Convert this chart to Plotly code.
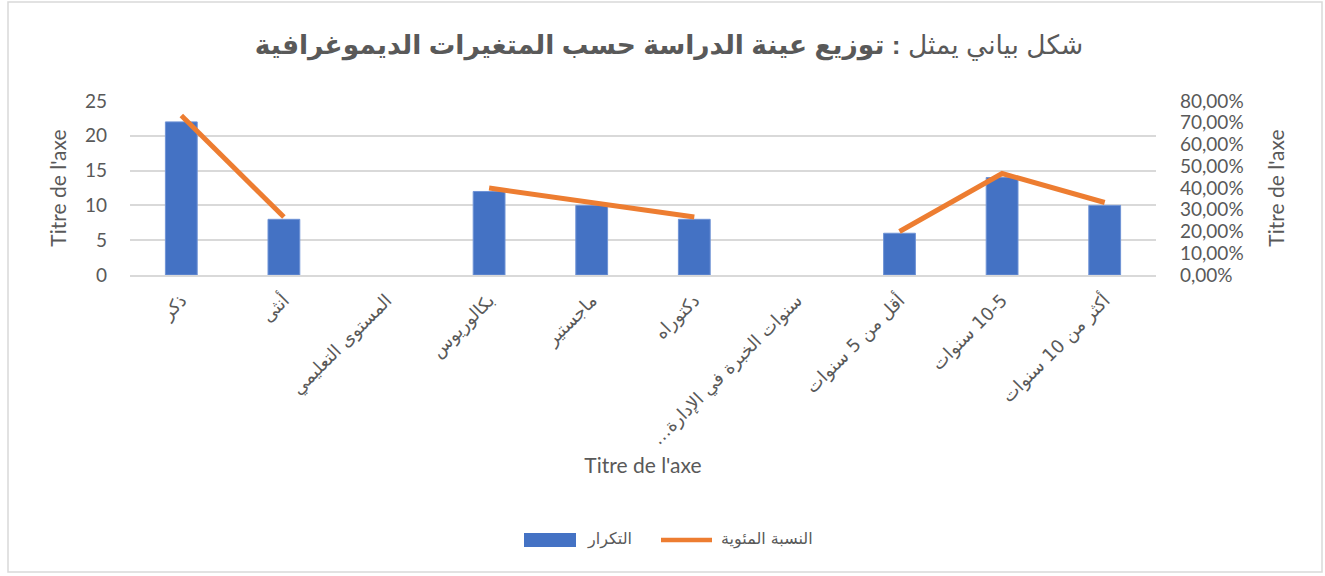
import plotly.graph_objects as go

RLM = "\u200f"
categories = ["ذكر", "أنثى", "المستوى التعليمي", "بكالوريوس", "ماجستير", "دكتوراه",
              RLM + "سنوات الخبرة في الإدارة…" + RLM, "أقل من 5 سنوات", RLM + "10-5 سنوات", "أكثر من 10 سنوات"]
freq = [22, 8, None, 12, 10, 8, None, 6, 14, 10]
pct = [0.7333, 0.2667, None, 0.40, 0.3333, 0.2667, None, 0.20, 0.4667, 0.3333]

y_ticks_left = [0, 5, 10, 15, 20, 25]
y_ticks_right = [0, 0.1, 0.2, 0.3, 0.4, 0.5, 0.6, 0.7, 0.8]

title_plain = "شكل بياني يمثل "
title_bold = ": توزيع عينة الدراسة حسب المتغيرات الديموغرافية"
axis_title = "Titre de l'axe"
legend_names = ["التكرار", "النسبة المئوية"]

BLUE = "#4472C4"
ORANGE = "#ED7D31"
grey = "#595959"
tickfont = dict(family="Lato, Liberation Sans, DejaVu Sans", size=19, color=grey)
titlefont = dict(family="Lato, Liberation Sans", size=21, color=grey)

# plot area in pixels
L, R, T, B = 130, 1156, 101, 275
W, H = 1325, 576
def px(x):
    return (x - L) / (R - L)
def py(y):
    return (B - y) / (B - T)

fig = go.Figure()
fig.add_trace(go.Bar(
    x=categories, y=freq, name=legend_names[0],
    marker=dict(color=BLUE, line=dict(color="#6F93D6", width=1)),
    yaxis="y", showlegend=False,
))
fig.add_trace(go.Scatter(
    x=categories, y=pct, name=legend_names[1], mode="lines",
    line=dict(color=ORANGE, width=5), connectgaps=False,
    yaxis="y2", showlegend=False,
))

shapes = [
    dict(type="rect", xref="paper", yref="paper",
         x0=px(8), x1=px(1322), y0=py(572), y1=py(2),
         line=dict(color="#D9D9D9", width=1.5), fillcolor="rgba(0,0,0,0)", layer="below"),
    # legend swatches
    dict(type="rect", xref="paper", yref="paper",
         x0=px(524), x1=px(576), y0=py(547), y1=py(533),
         line=dict(width=0), fillcolor=BLUE),
    dict(type="line", xref="paper", yref="paper",
         x0=px(661), x1=px(712), y0=py(540), y1=py(540),
         line=dict(color=ORANGE, width=4.5)),
]
annotations = [
    dict(text=legend_names[0], xref="paper", yref="paper", x=px(609), y=py(539),
         xanchor="center", yanchor="middle", showarrow=False,
         font=dict(family="DejaVu Sans", size=16, color=grey)),
    dict(text=legend_names[1], xref="paper", yref="paper", x=px(767), y=py(539),
         xanchor="center", yanchor="middle", showarrow=False,
         font=dict(family="DejaVu Sans", size=16, color=grey)),
]

fig.update_layout(
    width=W, height=H,
    paper_bgcolor="white", plot_bgcolor="white",
    margin=dict(l=L, r=W - R, t=T, b=H - B),
    separators=", ",
    bargap=0.69,
    showlegend=False,
    title=dict(
        text=f"{title_plain}<b>{title_bold}</b>",
        x=669 / W, xref="container", xanchor="center",
        y=1 - 45 / H, yref="container", yanchor="middle",
        font=dict(family="Liberation Sans, DejaVu Sans", size=26.5, color=grey),
    ),
    xaxis=dict(
        tickangle=-45, tickfont=dict(family="DejaVu Sans", size=18, color=grey),
        showgrid=False, showline=True, linecolor="#D9D9D9", linewidth=1.5,
        ticks="", ticklabelstandoff=6,
        title=dict(text=axis_title, font=titlefont, standoff=10),
    ),
    yaxis=dict(
        range=[0, 25], tickvals=y_ticks_left, tickfont=tickfont,
        showgrid=True, gridcolor="#D9D9D9", gridwidth=1.5, zeroline=False,
        ticks="", ticklabelstandoff=22,
        title=dict(text=axis_title, font=titlefont, standoff=12),
    ),
    yaxis2=dict(
        range=[0, 0.8], tickvals=y_ticks_right, tickformat=".2%",
        tickfont=tickfont, overlaying="y", side="right",
        showgrid=False, zeroline=False, ticks="", ticklabelstandoff=23,
        title=dict(text=axis_title, font=titlefont, standoff=26),
    ),
    shapes=shapes,
    annotations=annotations,
)

fig.write_html("out.html", config={"displayModeBar": False},
               post_script="document.body.style.margin='0';")
